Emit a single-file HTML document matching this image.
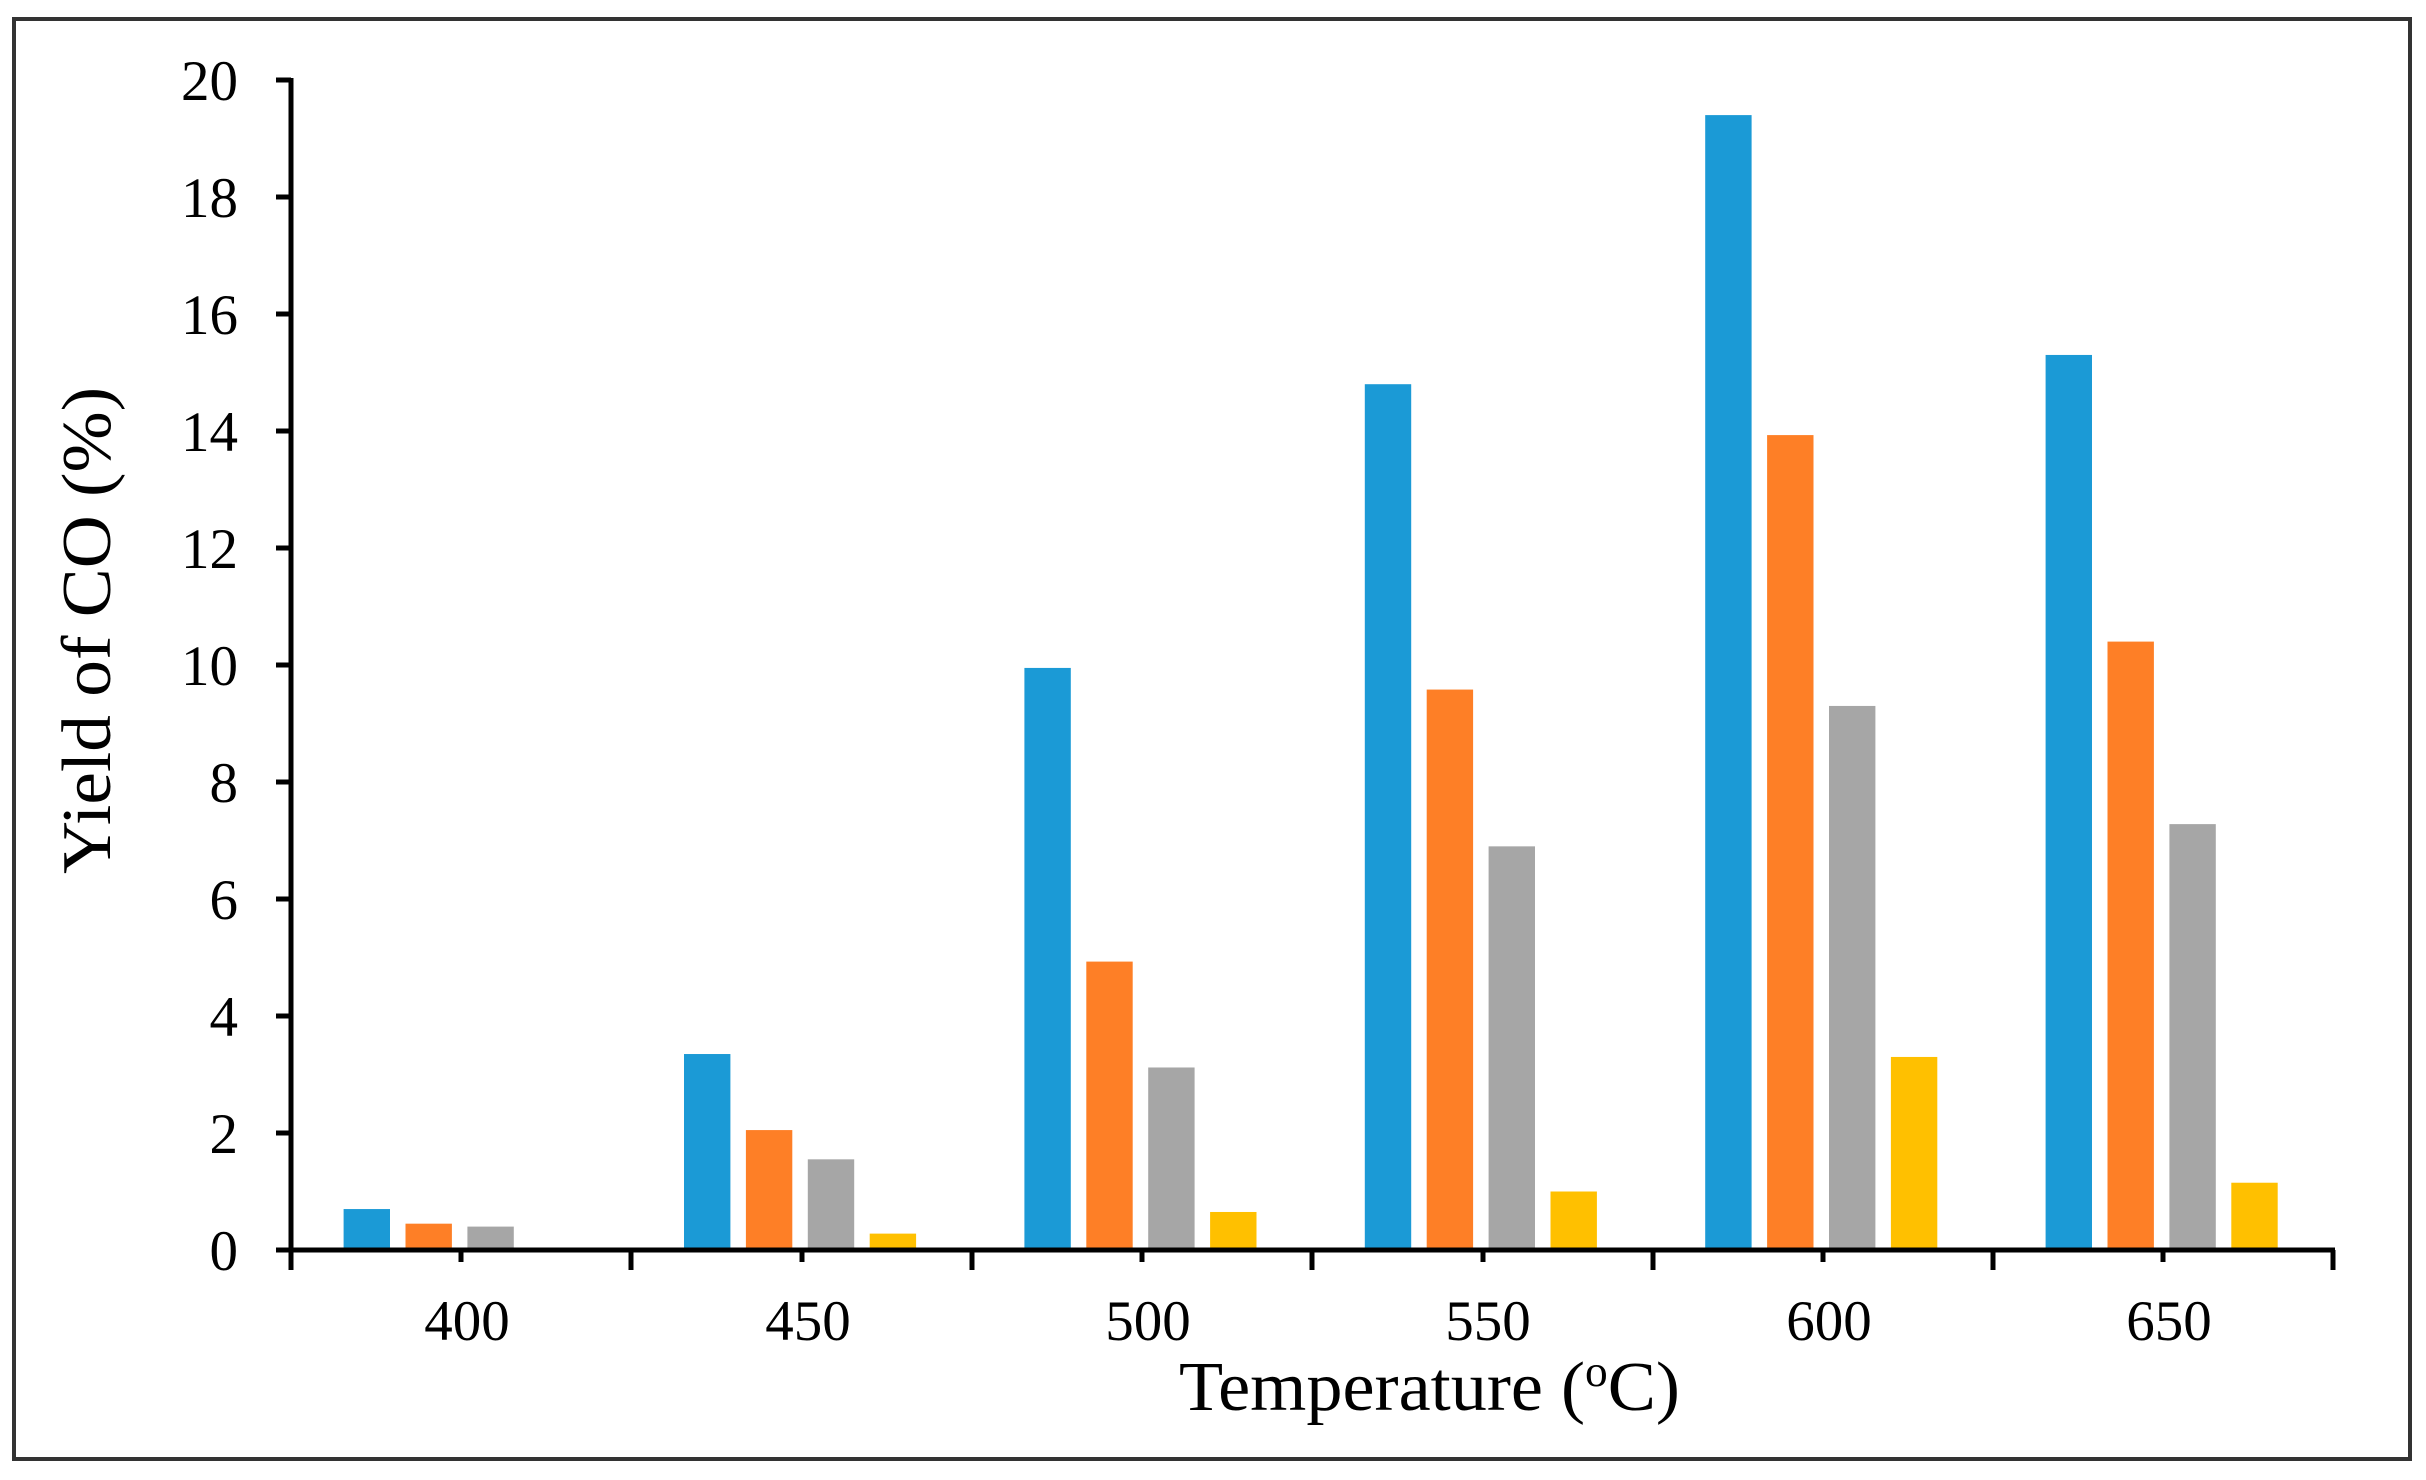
<!DOCTYPE html>
<html><head><meta charset="utf-8"><style>
html,body{margin:0;padding:0;background:#fff;}
svg{display:block;}
text{font-family:"Liberation Serif",serif;fill:#000;}
</style></head><body>
<svg width="2426" height="1480" viewBox="0 0 2426 1480" xmlns="http://www.w3.org/2000/svg">
<rect x="14" y="19" width="2396" height="1440" fill="none" stroke="#333" stroke-width="4"/>
<g id="bars"></g>
<line x1="291" y1="78" x2="291" y2="1252" stroke="#000" stroke-width="5"/>
<line x1="289" y1="1250" x2="2335" y2="1250" stroke="#000" stroke-width="5"/>
<g stroke="#000" stroke-width="5">
<line x1="276" y1="80" x2="291" y2="80"/><line x1="276" y1="197" x2="291" y2="197"/>
<line x1="276" y1="314" x2="291" y2="314"/><line x1="276" y1="431" x2="291" y2="431"/>
<line x1="276" y1="548" x2="291" y2="548"/><line x1="276" y1="665" x2="291" y2="665"/>
<line x1="276" y1="782" x2="291" y2="782"/><line x1="276" y1="899" x2="291" y2="899"/>
<line x1="276" y1="1016" x2="291" y2="1016"/><line x1="276" y1="1133" x2="291" y2="1133"/>
<line x1="276" y1="1250" x2="291" y2="1250"/>
<line x1="291" y1="1250" x2="291" y2="1270"/><line x1="631" y1="1250" x2="631" y2="1270"/>
<line x1="972" y1="1250" x2="972" y2="1270"/><line x1="1312" y1="1250" x2="1312" y2="1270"/>
<line x1="1653" y1="1250" x2="1653" y2="1270"/><line x1="1993" y1="1250" x2="1993" y2="1270"/>
<line x1="2333" y1="1250" x2="2333" y2="1270"/>
<line x1="461" y1="1250" x2="461" y2="1262"/><line x1="802" y1="1250" x2="802" y2="1262"/>
<line x1="1142" y1="1250" x2="1142" y2="1262"/><line x1="1483" y1="1250" x2="1483" y2="1262"/>
<line x1="1823" y1="1250" x2="1823" y2="1262"/><line x1="2163" y1="1250" x2="2163" y2="1262"/>
</g>
<g font-size="57" text-anchor="end">
<text x="238" y="100">20</text><text x="238" y="217">18</text><text x="238" y="334">16</text>
<text x="238" y="451">14</text><text x="238" y="568">12</text><text x="238" y="685">10</text>
<text x="238" y="802">8</text><text x="238" y="919">6</text><text x="238" y="1036">4</text>
<text x="238" y="1153">2</text><text x="238" y="1270">0</text>
</g>
<g font-size="57" text-anchor="middle">
<text x="467" y="1340">400</text><text x="808" y="1340">450</text><text x="1148" y="1340">500</text>
<text x="1488" y="1340">550</text><text x="1829" y="1340">600</text><text x="2169" y="1340">650</text>
</g>
<text x="1179" y="1410" font-size="70" textLength="501" lengthAdjust="spacingAndGlyphs">Temperature (<tspan font-size="44" dy="-24">o</tspan><tspan dy="24">C)</tspan></text>
<text transform="translate(110,874) rotate(-90)" font-size="70" textLength="487" lengthAdjust="spacingAndGlyphs">Yield of CO (%)</text>
</svg>
<script>
var vals=[[0.7,3.35,9.95,14.8,19.4,15.3],[0.45,2.05,4.93,9.58,13.93,10.4],[0.4,1.55,3.12,6.9,9.3,7.28],[0,0.28,0.65,1.0,3.3,1.15]];
var cols=["#1b9ad6","#fe7f26","#a6a6a6","#ffc000"];
var g=document.getElementById("bars"),ns="http://www.w3.org/2000/svg";
for(var s=0;s<4;s++)for(var c=0;c<6;c++){var v=vals[s][c];if(!v)continue;
var r=document.createElementNS(ns,"rect");var x=291+c*340.4+52.6+s*61.9;var h=v*58.5;
r.setAttribute("x",x);r.setAttribute("y",1250-h);r.setAttribute("width",46.4);r.setAttribute("height",h);r.setAttribute("fill",cols[s]);g.appendChild(r);}
</script>
</body></html>
